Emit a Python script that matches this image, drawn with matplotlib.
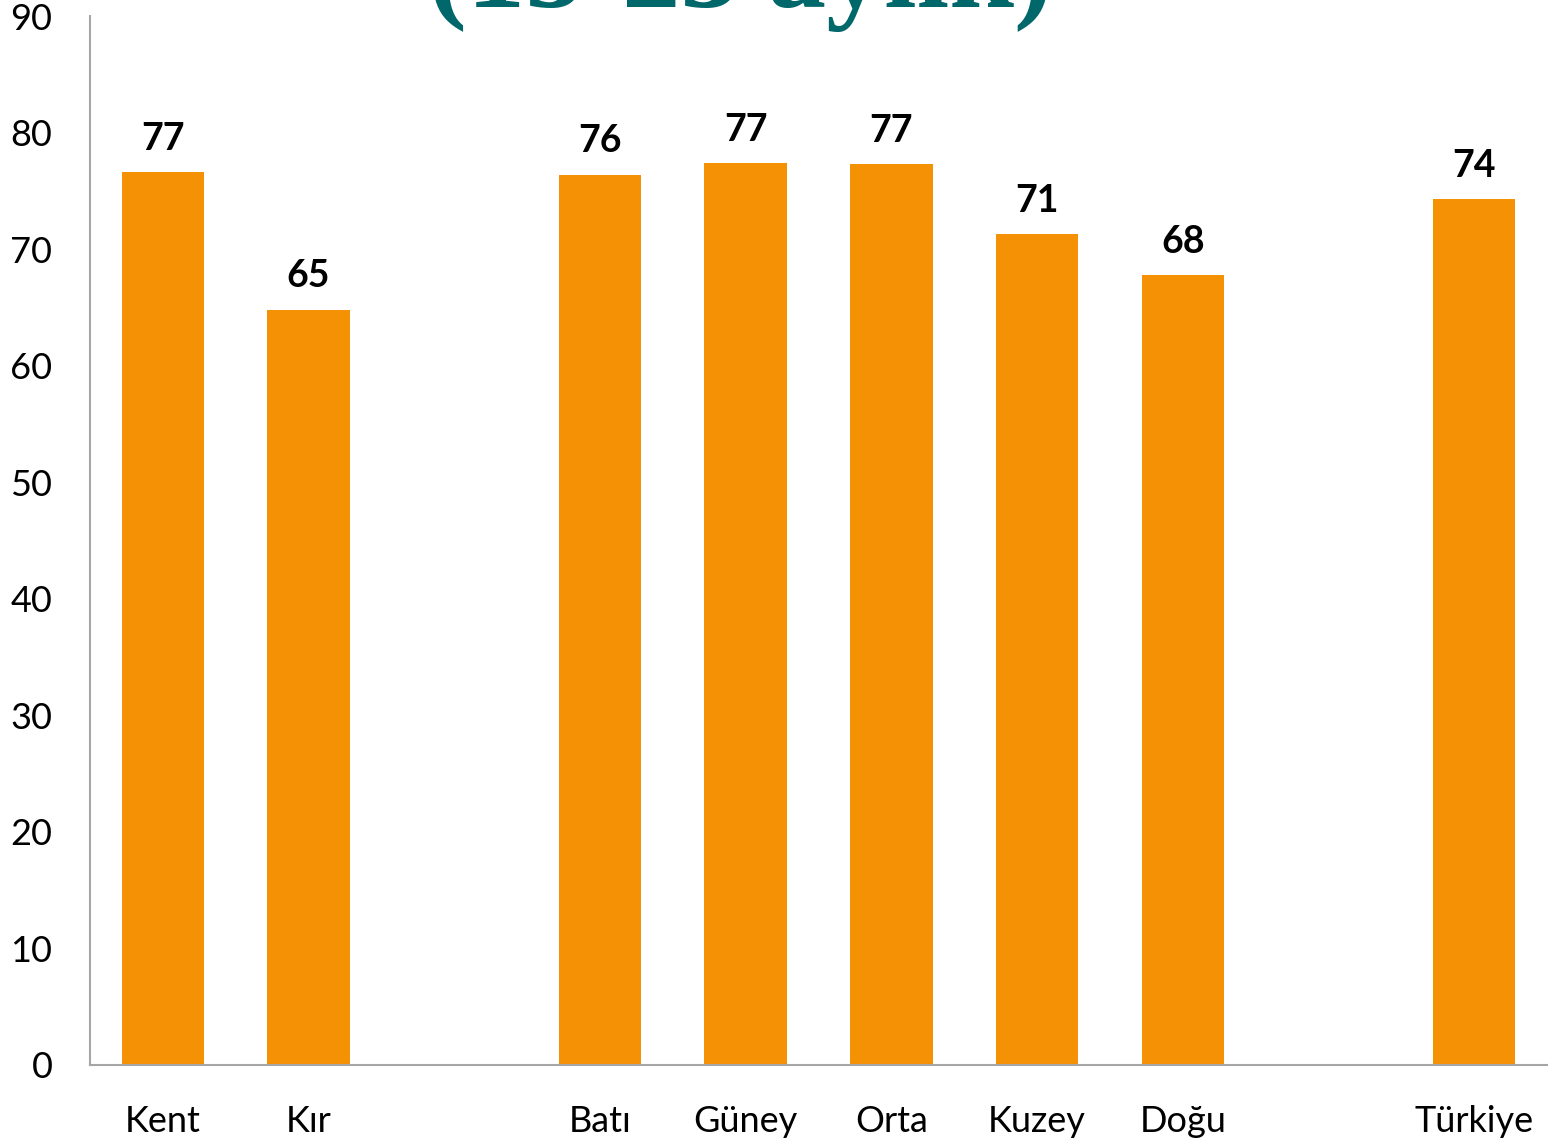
import matplotlib
matplotlib.use("Agg")
import matplotlib.pyplot as plt

# Residence type, regions and country total
groups = [["Kent", "Kır"],
          ["Batı", "Güney", "Orta", "Kuzey", "Doğu"],
          ["Türkiye"]]
values = [76.6, 64.8, 76.4, 77.4, 77.3, 71.3, 67.8, 74.3]

title = "(15-23 aylık)"
bar_color = "#F59105"
title_color = "#00676A"

plt.rcParams["font.family"] = ["Lato", "DejaVu Sans"]

# One empty slot between groups
positions = []
labels = []
slot = 0
for group in groups:
    for name in group:
        positions.append(slot)
        labels.append(name)
        slot += 1
    slot += 1

fig = plt.figure(figsize=(15.49, 11.40), dpi=100)
ax = fig.add_axes([90 / 1549, 1 - 1065 / 1140, (1547 - 90) / 1549, (1065 - 16) / 1140])

bars = ax.bar(positions, values, width=0.565, color=bar_color)
for rect, v in zip(bars, values):
    ax.annotate(f"{v:.0f}", (rect.get_x() + rect.get_width() / 2, v),
                xytext=(0, 16), textcoords="offset points",
                ha="center", va="baseline", fontsize=27, fontweight="bold")

ax.set_xlim(-0.5, positions[-1] + 0.5)
ax.set_ylim(0, 90)
ax.set_yticks(range(0, 91, 10))
ax.set_xticks(positions)
ax.set_xticklabels(labels)
ax.tick_params(axis="y", length=0, pad=27, labelsize=26)
ax.tick_params(axis="x", length=0, pad=29, labelsize=26)

for side in ["top", "right"]:
    ax.spines[side].set_visible(False)
for side in ["left", "bottom"]:
    ax.spines[side].set_color("#A6A6A6")
    ax.spines[side].set_linewidth(1.5)

fig.text(740 / 1549, 1 - 7 / 1140, title, ha="center", va="baseline",
         fontsize=84, fontweight="bold", family="Liberation Serif",
         color=title_color)

fig.savefig("out.png", dpi=100)
